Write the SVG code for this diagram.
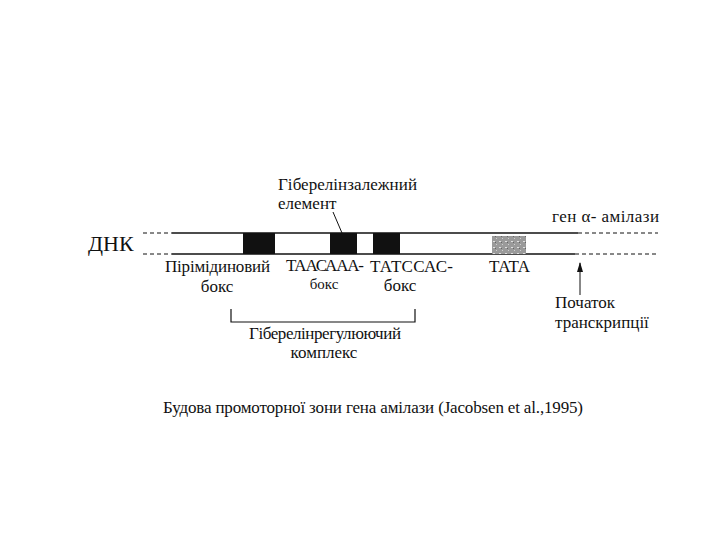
<svg xmlns="http://www.w3.org/2000/svg" width="720" height="540" viewBox="0 0 720 540">
<style>
text{font-family:"Liberation Serif","Times New Roman",serif;fill:#111;font-size:17px}
.ln{stroke:#111;stroke-width:1.5;fill:none}
.ds{stroke:#111;stroke-width:1;stroke-dasharray:4 3;fill:none}
.blk{fill:#111}
</style>
<defs>
<pattern id="sp" width="6" height="6" patternUnits="userSpaceOnUse">
<rect width="6" height="6" fill="#9a9a9a"/>
<rect x="1" y="1" width="2" height="1" fill="#e0e0e0"/>
<rect x="4" y="4" width="1" height="1" fill="#d0d0d0"/>
<rect x="3" y="2" width="1" height="1" fill="#666"/>
</pattern>
<marker id="ah" markerWidth="10" markerHeight="8" refX="9" refY="4" orient="auto" markerUnits="userSpaceOnUse" viewBox="0 0 10 8">
<path d="M10 4 L0 1 L0 7 Z" fill="#111"/>
</marker>
</defs>
<rect width="720" height="540" fill="#fff"/>
<g id="dna">
<text x="88" y="251" style="font-size:22px">ДНК</text>
<line class="ds" x1="143" y1="233" x2="172" y2="233"/>
<line class="ds" x1="143" y1="254" x2="172" y2="254"/>
<line class="ln" x1="172" y1="233" x2="578" y2="233"/>
<line class="ln" x1="172" y1="254" x2="575" y2="254"/>
<line class="ds" x1="578" y1="233" x2="658" y2="233"/>
<line class="ds" x1="575" y1="254" x2="658" y2="254"/>
</g>
<g id="pyrimidine-box">
<rect class="blk" x="243" y="233" width="32" height="21"/>
<text x="165" y="272" textLength="105">Пірімідиновий</text>
<text x="217" y="292" text-anchor="middle">бокс</text>
</g>
<g id="taacaaa-box">
<rect class="blk" x="330" y="233" width="27" height="21"/>
<text x="286" y="271" textLength="78">ТААСААА-</text>
<text x="324" y="289" text-anchor="middle" style="font-size:15px">бокс</text>
</g>
<g id="tatccac-box">
<rect class="blk" x="373" y="233" width="27" height="21"/>
<text x="370" y="272" textLength="83">ТАТССАС-</text>
<text x="400" y="291" text-anchor="middle">бокс</text>
</g>
<g id="tata-box">
<rect x="492" y="236" width="34" height="18" fill="url(#sp)"/>
<text x="489" y="272" textLength="41">ТАТА</text>
</g>
<g id="gibberellin-element">
<text x="278" y="190" textLength="139">Гіберелінзалежний</text>
<text x="278" y="209">елемент</text>
</g>
<g id="gene-label">
<text x="552" y="222" textLength="107">ген α- амілази</text>
</g>
<g id="transcription-start">
<text x="555" y="308">Початок</text>
<text x="555" y="328">транскрипції</text>
</g>
<g id="complex">
<text x="249" y="339" textLength="152">Гіберелінрегулюючий</text>
<text x="324" y="358" text-anchor="middle">комплекс</text>
</g>
<g id="connectors">
<line x1="333" y1="212" x2="342" y2="233" stroke="#111" stroke-width="1"/>
<line x1="580" y1="295" x2="580" y2="263" stroke="#111" stroke-width="1" marker-end="url(#ah)"/>
<path d="M231 309 V322 H415 V309" stroke="#111" stroke-width="1.2" fill="none"/>
</g>
<g id="caption">
<text x="163" y="413" textLength="420">Будова промоторної  зони гена амілази (Jacobsen et al.,1995)</text>
</g>
</svg>
